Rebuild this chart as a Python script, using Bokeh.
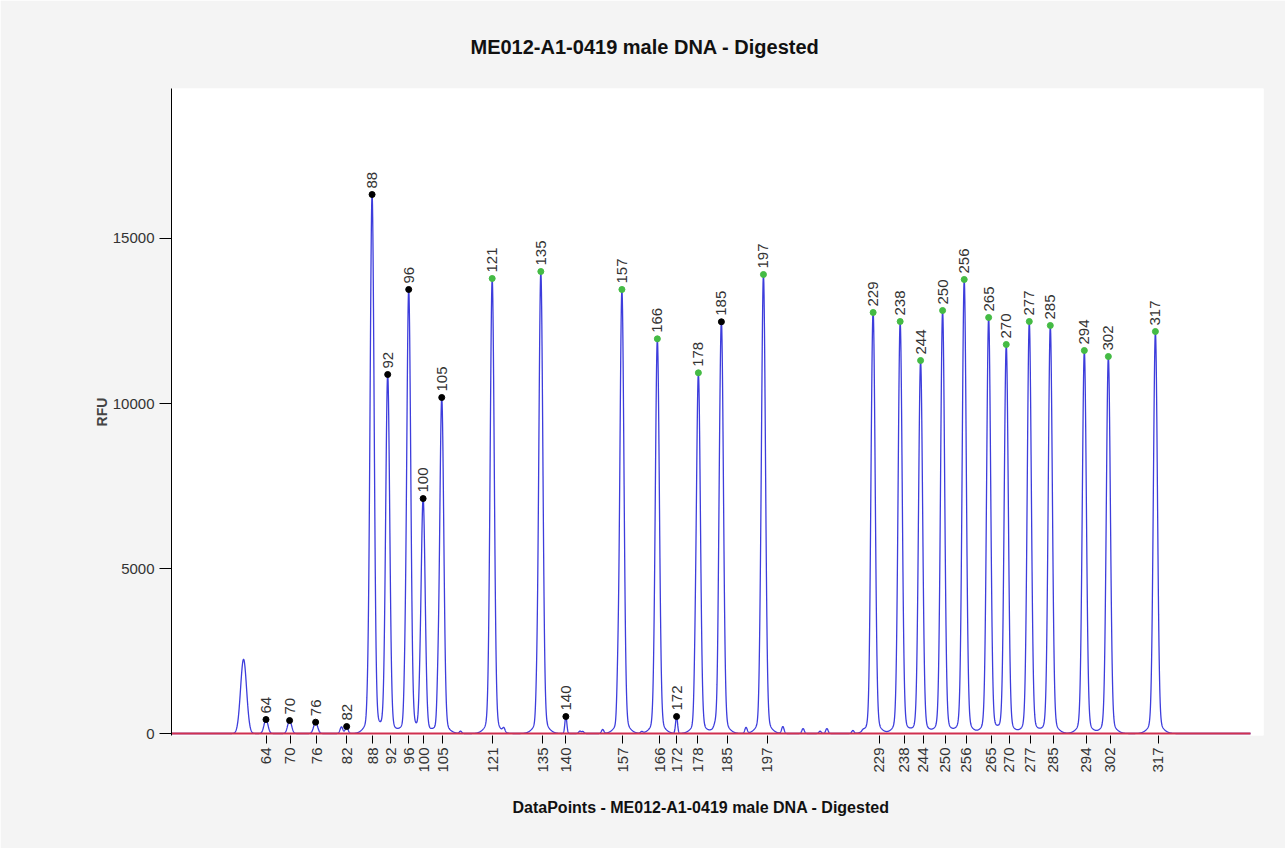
import numpy as np
from bokeh.plotting import figure
from bokeh.models import Range1d, FixedTicker, ColumnDataSource, LabelSet, Title
from bokeh.embed import file_html
from bokeh.resources import INLINE
from bokeh.core.properties import value

# ---- data -------------------------------------------------------------
# called peaks: size label, data point of apex, height (RFU), marker status
sizes = ["64", "70", "76", "82", "88", "92", "96", "100", "105", "121", "135", "140",
         "157", "166", "172", "178", "185", "197", "229", "238", "244", "250", "256",
         "265", "270", "277", "285", "294", "302", "317"]
peak_dp = [1472, 1590, 1720, 1875, 2002, 2080, 2185, 2257, 2350, 2602, 2845, 2970,
           3250, 3427, 3523, 3632, 3747, 3957, 4505, 4640, 4742, 4852, 4960,
           5082, 5170, 5285, 5390, 5560, 5680, 5915]
peak_rfu = [424, 394, 343, 212, 16333, 10879, 13455, 7120, 10182, 13788, 14000, 515,
            13455, 11960, 515, 10930, 12476, 13909, 12758, 12485, 11303, 12818, 13758,
            12606, 11788, 12485, 12364, 11606, 11424, 12182]
peak_width = [10, 10, 10, 7, 10, 10, 10, 10, 10, 10, 10, 5,
              10, 10, 5, 10, 10, 10, 10, 10, 10, 10, 10,
              10, 10, 10, 10, 10, 10, 10]
status = ["other", "other", "other", "other", "other", "other", "other", "other", "other",
          "sized", "sized", "other", "sized", "sized", "other", "sized", "other", "sized",
          "sized", "sized", "sized", "sized", "sized", "sized", "sized", "sized", "sized",
          "sized", "sized", "sized"]
# axis tick positions (data points) for each size label
tick_dp = [1474, 1594, 1725, 1875, 2005, 2095, 2185, 2260, 2355, 2604, 2855, 2970,
           3255, 3440, 3525, 3630, 3775, 3975, 4535, 4660, 4755, 4865, 4970,
           5095, 5185, 5290, 5405, 5570, 5690, 5930]

# uncalled peaks, shoulders and noise: data point, height, width
minor_dp = [1360, 1849, 1980, 2165, 2240, 2330, 2444, 2660, 2824, 3040, 3055, 3154,
            3229, 3349, 3615, 3715, 3735, 3870, 3940, 4054, 4155, 4240, 4274, 4404,
            4455, 4494]
minor_rfu = [2250, 200, 300, 550, 330, 600, 70, 120, 400, 70, 60, 120,
             750, 50, 550, 90, 750, 180, 450, 210, 150, 70, 150, 90,
             40, 550]
minor_width = [15, 7, 5, 5, 5, 5, 6, 6, 5, 6, 6, 6,
               5, 6, 5, 6, 5, 6, 5, 6, 6, 6, 6, 6,
               6, 5]

dp_start, dp_end, dp_frame_end = 1000, 6390, 6455
rfu_min, rfu_max = -60, 19545

# ---- trace built from the peak table ---------------------------------
x = np.arange(dp_start, dp_end + 1, 1.0)
y = np.zeros_like(x)
for c, h, w in zip(peak_dp + minor_dp, peak_rfu + minor_rfu, peak_width + minor_width):
    tail = 0.03 if h > 3000 else 0.0
    y += h * (1 - tail) * np.exp(-0.5 * ((x - c) / w) ** 2)
    y += h * tail * np.exp(-0.5 * ((x - c) / (3.0 * w)) ** 2)

p = figure(width=1285, height=848, output_backend="svg", toolbar_location=None,
           x_range=Range1d(dp_start, dp_frame_end), y_range=Range1d(rfu_min, rfu_max),
           min_border_left=171, min_border_right=22, min_border_top=88, min_border_bottom=113)
p.background_fill_color = "white"
p.border_fill_color = "#f4f4f4"
p.outline_line_color = None
p.grid.visible = False

p.line(x, y, color="#3d3ddc", line_width=1.3)
p.line(x, np.zeros_like(x), color="#d0304f", line_width=2)

dot_col = ["#44bb44" if s == "sized" else "black" for s in status]
src = ColumnDataSource(dict(x=peak_dp, y=peak_rfu, t=sizes, c=dot_col))
p.scatter("x", "y", source=src, size=6, color="c")
p.add_layout(LabelSet(x="x", y="y", text="t", source=src, angle=np.pi / 2,
                      text_align="left", text_baseline="middle", y_offset=6,
                      text_font=value("Liberation Sans"), text_font_size="15px",
                      text_color="#333333"))

# axes
p.xaxis.ticker = FixedTicker(ticks=tick_dp)
p.xaxis.major_label_overrides = {t: s for t, s in zip(tick_dp, sizes)}
p.xaxis.major_label_orientation = np.pi / 2
p.xaxis.axis_line_color = None
p.xaxis.major_tick_out = 8
p.xaxis.major_tick_in = 0
p.xaxis.minor_tick_line_color = None
p.xaxis.major_label_standoff = 4
p.xaxis.major_label_text_font = "Liberation Sans"
p.xaxis.major_label_text_font_size = "15px"
p.xaxis.major_label_text_color = "#333333"

p.yaxis.ticker = FixedTicker(ticks=[0, 5000, 10000, 15000])
p.yaxis.major_tick_out = 12
p.yaxis.major_tick_in = 0
p.yaxis.minor_tick_line_color = None
p.yaxis.major_label_standoff = 5
p.yaxis.major_label_text_font = "Liberation Sans"
p.yaxis.major_label_text_font_size = "15px"
p.yaxis.major_label_text_color = "#333333"
p.yaxis.axis_label = "RFU"
p.yaxis.axis_label_text_font = "Liberation Sans"
p.yaxis.axis_label_text_font_style = "bold"
p.yaxis.axis_label_text_font_size = "14px"
p.yaxis.axis_label_standoff = 0

# titles: spacer closest to the frame, then the chart title
p.add_layout(Title(text=" ", text_font_size="12px"), "above")
p.add_layout(Title(text="ME012-A1-0419 male DNA - Digested", align="left", offset=299,
                   text_font="Liberation Sans", text_font_style="bold",
                   text_font_size="20px", text_color="#111111"), "above")
p.add_layout(Title(text="DataPoints - ME012-A1-0419 male DNA - Digested", align="left",
                   offset=341, text_font="Liberation Sans", text_font_style="bold",
                   text_font_size="16px", text_color="#111111", standoff=42), "below")

open("out.html", "w").write(file_html(p, INLINE))
